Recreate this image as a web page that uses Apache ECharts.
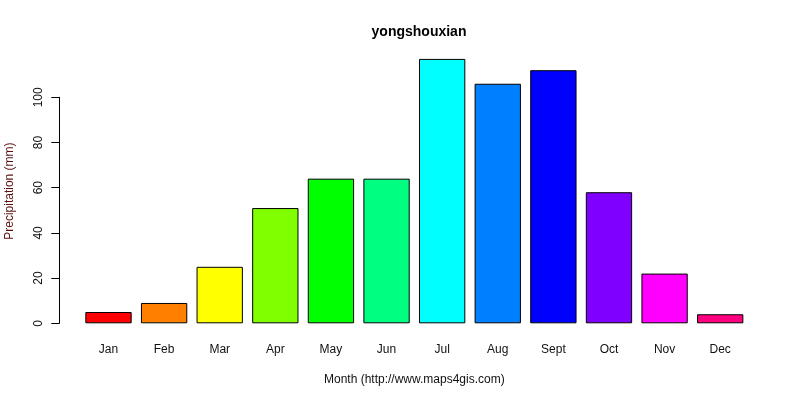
<!DOCTYPE html>
<html>
<head>
<meta charset="utf-8">
<script src="https://cdn.jsdelivr.net/npm/echarts@6/dist/echarts.min.js"></script>
<style>
  html, body { margin: 0; padding: 0; background: #fff; }
  #chart { width: 800px; height: 400px; }
</style>
</head>
<body>
<div id="chart"></div>
<script>
// monthly precipitation
var months = ['Jan', 'Feb', 'Mar', 'Apr', 'May', 'Jun', 'Jul', 'Aug', 'Sept', 'Oct', 'Nov', 'Dec'];
var precip = [5, 9, 25, 51, 64, 64, 117, 106, 112, 58, 22, 4];
// R rainbow(12)
var colors = ['#FF0000', '#FF8000', '#FFFF00', '#80FF00', '#00FF00', '#00FF80',
              '#00FFFF', '#0080FF', '#0000FF', '#8000FF', '#FF00FF', '#FF0080'];

var chart = echarts.init(document.getElementById('chart'));
var font = 'Liberation Sans, Arial, sans-serif';

var option = {
  animation: false,
  backgroundColor: '#fff',
  title: {
    text: 'yongshouxian',
    left: 414,
    textAlign: 'center',
    top: 20,
    textStyle: { fontFamily: font, fontSize: 14, fontWeight: 'bold', color: '#000' }
  },
  grid: [
    // bars
    { left: 80.7, right: 52, top: 58.9, bottom: 76.7, outerBoundsMode: 'none' },
    // y axis, 0..100 only (like R's axis())
    { left: 59.3, width: 1, top: 97.3, bottom: 76.7, outerBoundsMode: 'none' }
  ],
  xAxis: [{
    type: 'category',
    gridIndex: 0,
    data: months,
    axisLine: { show: false },
    axisTick: { show: false },
    axisLabel: { margin: 20, fontFamily: font, fontSize: 12, color: '#111' },
    name: 'Month (http://www.maps4gis.com)',
    nameLocation: 'middle',
    nameGap: 50,
    nameTextStyle: { fontFamily: font, fontSize: 12, color: '#111' }
  }, {
    type: 'value',
    gridIndex: 1,
    show: false
  }],
  yAxis: [{
    type: 'value',
    gridIndex: 0,
    min: 0,
    max: 117,
    axisLine: { show: false },
    axisTick: { show: false },
    axisLabel: { show: false },
    splitLine: { show: false },
    name: 'Precipitation (mm)',
    nameLocation: 'middle',
    nameGap: 65,
    nameTextStyle: { fontFamily: font, fontSize: 12, color: '#5a1010' }
  }, {
    type: 'value',
    gridIndex: 1,
    min: 0,
    max: 100,
    interval: 20,
    axisLine: { show: true, lineStyle: { color: '#000', width: 1 } },
    axisTick: { show: true, length: 8, lineStyle: { color: '#000' } },
    splitLine: { show: false },
    axisLabel: { rotate: 90, margin: 15, fontFamily: font, fontSize: 12, color: '#111' }
  }],
  series: [{
    type: 'bar',
    xAxisIndex: 0,
    yAxisIndex: 0,
    barCategoryGap: '16.7%',
    data: precip.map(function (v, i) {
      return { value: v, itemStyle: { color: colors[i] } };
    }),
    itemStyle: { borderColor: '#000', borderWidth: 1 }
  }]
};

chart.setOption(option);
</script>
</body>
</html>
